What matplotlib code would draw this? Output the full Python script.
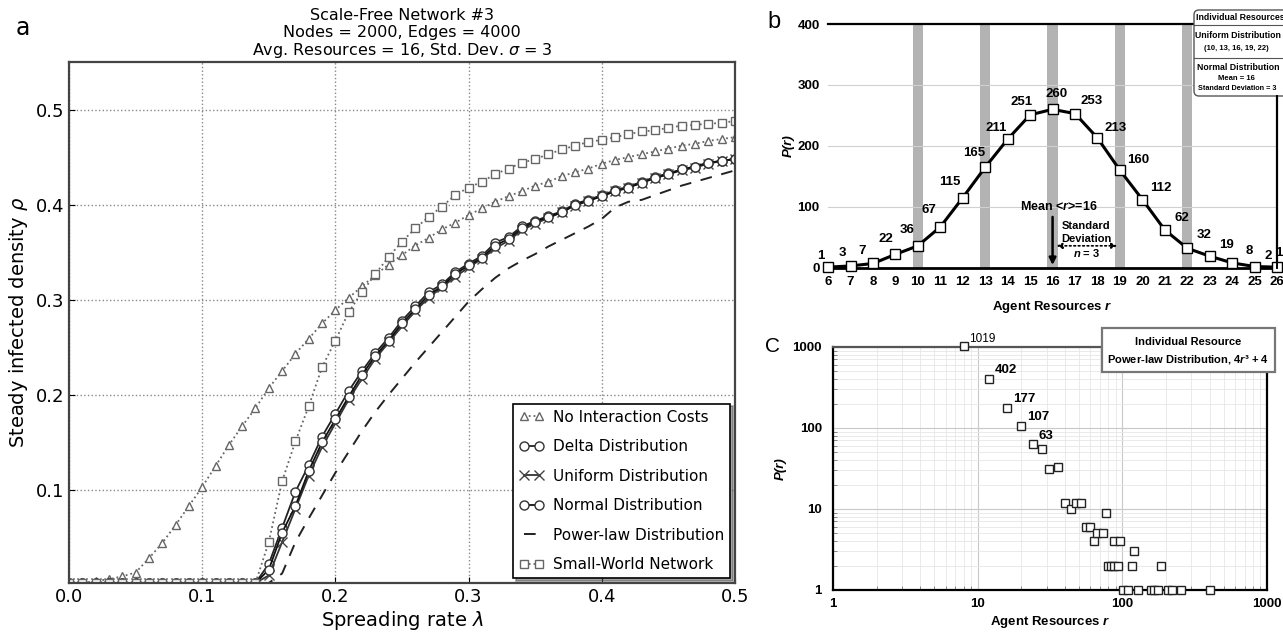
import numpy as np
import matplotlib as mpl
mpl.use("Agg")
import matplotlib.pyplot as plt
from matplotlib.patches import FancyBboxPatch, Rectangle

mpl.rcParams.update({
    "font.family": "DejaVu Sans",
    "mathtext.fontset": "custom",
    "mathtext.rm": "DejaVu Sans",
    "mathtext.it": "DejaVu Sans:italic",
    "mathtext.bf": "Liberation Sans:bold:italic",
})

# ---------------- panel a data ----------------
lam = np.round(np.arange(0, 0.501, 0.01), 2)

no_cost = [0.002, 0.002, 0.004, 0.006, 0.009, 0.013, 0.028, 0.044, 0.063, 0.083,
           0.103, 0.125, 0.147, 0.167, 0.186, 0.207, 0.225, 0.243, 0.259, 0.275,
           0.289, 0.302, 0.314, 0.326, 0.337, 0.347, 0.357, 0.365, 0.374, 0.381,
           0.389, 0.396, 0.403, 0.409, 0.414, 0.420, 0.424, 0.430, 0.434, 0.438,
           0.443, 0.447, 0.450, 0.453, 0.456, 0.459, 0.462, 0.464, 0.467, 0.469,
           0.471]
delta = [0.002] * 15 + [
    0.022, 0.060, 0.098, 0.126, 0.156, 0.180, 0.204, 0.225, 0.244, 0.260,
    0.278, 0.293, 0.308, 0.316, 0.329, 0.338, 0.346, 0.360, 0.366, 0.377,
    0.383, 0.388, 0.393, 0.401, 0.405, 0.410, 0.415, 0.419, 0.424, 0.429,
    0.433, 0.437, 0.440, 0.444, 0.446, 0.448]
uniform = [0.002] * 15 + [
    0.010, 0.045, 0.080, 0.115, 0.145, 0.170, 0.195, 0.217, 0.238, 0.255,
    0.272, 0.288, 0.302, 0.313, 0.324, 0.334, 0.343, 0.354, 0.362, 0.373,
    0.380, 0.386, 0.392, 0.399, 0.404, 0.409, 0.414, 0.418, 0.423, 0.428,
    0.432, 0.436, 0.439, 0.443, 0.446, 0.448]
normal = [0.002] * 15 + [
    0.016, 0.055, 0.083, 0.120, 0.150, 0.174, 0.198, 0.221, 0.241, 0.257,
    0.275, 0.290, 0.305, 0.314, 0.327, 0.336, 0.344, 0.357, 0.364, 0.375,
    0.382, 0.387, 0.392, 0.400, 0.404, 0.409, 0.414, 0.418, 0.423, 0.428,
    0.432, 0.437, 0.440, 0.444, 0.446, 0.448]
power = [0.002] * 16 + [
    0.012, 0.045, 0.070, 0.094, 0.118, 0.140, 0.162, 0.182, 0.200, 0.217,
    0.234, 0.250, 0.266, 0.282, 0.298, 0.311, 0.323, 0.333, 0.341, 0.348,
    0.356, 0.363, 0.370, 0.377, 0.385, 0.397, 0.403, 0.405, 0.410, 0.415,
    0.420, 0.424, 0.428, 0.432, 0.436]
small_world = [0.002] * 15 + [
    0.045, 0.109, 0.151, 0.188, 0.229, 0.257, 0.287, 0.308, 0.327, 0.345,
    0.361, 0.375, 0.387, 0.398, 0.410, 0.418, 0.424, 0.432, 0.438, 0.444,
    0.448, 0.453, 0.458, 0.462, 0.466, 0.468, 0.471, 0.474, 0.477, 0.478,
    0.481, 0.483, 0.484, 0.485, 0.486, 0.488]

# ---------------- panel b data ----------------
r_norm = list(range(6, 27))
p_norm = [1, 3, 7, 22, 36, 67, 115, 165, 211, 251, 260, 253, 213, 160, 112,
          62, 32, 19, 8, 2, 1]
uniform_levels = [10, 13, 16, 19, 22]

# ---------------- panel c data ----------------
r_pow = [8, 12, 16, 20, 24, 28, 31, 36, 40, 44, 48, 52, 56, 60, 64, 67, 73,
         77, 79, 83, 88, 93, 88, 96, 116, 120, 185,
         101, 109, 129, 157, 166, 175, 208, 219, 254, 405]
p_pow = [1019, 402, 177, 107, 63, 55, 31, 33, 12, 10, 12, 12, 6, 6, 4, 5, 5,
         9, 2, 2, 2, 2, 4, 4, 2, 3, 2,
         1, 1, 1, 1, 1, 1, 1, 1, 1, 1]
labelled = [1019, 402, 177, 107, 63]

fig = plt.figure(figsize=(12.83, 6.33), dpi=100)

# ======================= panel a =======================
ax = fig.add_axes([0.0538, 0.079, 0.519, 0.823])
grey = "#666666"
ax.plot(lam, no_cost, ls=":", color=grey, marker="^", mfc="white", mec=grey,
        ms=5.5, lw=1.3, label="No Interaction Costs")
ax.plot(lam, delta, ls="-", color="#222222", marker="o", mfc="white",
        mec="#333333", ms=6.5, lw=1.3, label="Delta Distribution")
ax.plot(lam, uniform, ls="-", color="#333333", marker="x", mec="#444444",
        ms=6.5, lw=1.3, label="Uniform Distribution")
ax.plot(lam, normal, ls="-", color="#111111", marker="o", mfc="white",
        mec="#333333", ms=6.5, lw=1.3, label="Normal Distribution")
ax.plot(lam, power, ls=(0, (6, 5)), color="#222222", lw=1.4,
        label="Power-law Distribution")
ax.plot(lam, small_world, ls=":", color=grey, marker="s", mfc="white",
        mec=grey, ms=5.5, lw=1.3, label="Small-World Network")

ax.set_xlim(0, 0.5)
ax.set_ylim(0.002, 0.55)
ax.set_xticks([0.0, 0.1, 0.2, 0.3, 0.4, 0.5])
ax.set_yticks([0.1, 0.2, 0.3, 0.4, 0.5])
ax.grid(True, ls=":", color="#888888", lw=1.0)
ax.tick_params(labelsize=13, direction="in", length=4)
for s in ax.spines.values():
    s.set_linewidth(1.6)
    s.set_color("#444444")
ax.set_xlabel(r"Spreading rate $\lambda$", fontsize=14, labelpad=2)
ax.set_ylabel(r"Steady infected density $\rho$", fontsize=14)
ax.set_title("Scale-Free Network #3\nNodes = 2000, Edges = 4000\n"
             r"Avg. Resources = 16, Std. Dev. $\sigma$ = 3",
             fontsize=11.5, linespacing=1.1, pad=5)
leg = ax.legend(loc="lower right", numpoints=2, fontsize=11, shadow=True,
                fancybox=False, borderaxespad=0.3, labelspacing=0.95,
                handlelength=1.6, handletextpad=0.6, framealpha=1)
leg.get_frame().set_edgecolor("black")
leg.get_frame().set_linewidth(1.2)
fig.text(0.012, 0.955, "a", fontsize=17, va="center")

# ======================= panel b =======================
bold = dict(family="Liberation Sans", fontweight="bold")
bx = fig.add_axes([0.6454, 0.577, 0.350, 0.385])
for u in uniform_levels:
    bx.axvspan(u - 0.23, u + 0.23, color="#b3b3b3", zorder=0, lw=0)
bx.plot(r_norm, p_norm, color="black", lw=2.2, marker="s", ms=6.5,
        mfc="white", mec="black", mew=1.0, zorder=3, clip_on=False)
bx.set_xlim(6, 26)
bx.set_ylim(0, 400)
bx.set_xticks(r_norm)
bx.set_yticks([0, 100, 200, 300, 400])
bx.yaxis.grid(True, color="#d0d0d0", lw=0.8)
bx.tick_params(length=0, labelsize=9.5, pad=6)
for lbl in bx.get_xticklabels() + bx.get_yticklabels():
    lbl.set_fontfamily("Liberation Sans")
    lbl.set_fontweight("bold")
for s in bx.spines.values():
    s.set_linewidth(1.6)
bx.spines["left"].set_visible(False)
bx.spines["bottom"].set_linewidth(2.0)
bx.set_xlabel(r"Agent Resources $\mathbf{r}$", fontsize=9.5, labelpad=8, **bold)
bx.set_ylabel("P(r)", fontsize=9.5, style="italic", labelpad=2, **bold)

offsets = {6: (-5, 4), 7: (-6, 5), 8: (-8, 5), 9: (-7, 7), 10: (-8, 7),
           11: (-8, 8), 12: (-9, 7), 13: (-8, 6), 14: (-8, 4), 15: (-6, 5),
           16: (3, 7), 17: (12, 5), 18: (13, 3), 19: (13, 3), 20: (13, 4),
           21: (12, 4), 22: (12, 5), 23: (12, 4), 24: (12, 4), 25: (10, 3),
           26: (1, 6)}
for r, p in zip(r_norm, p_norm):
    dx, dy = offsets[r]
    bx.annotate(str(p), (r, p), xytext=(dx, dy), textcoords="offset points",
                ha="center", va="bottom", fontsize=9.5, annotation_clip=False,
                **bold)

bx.annotate("", xy=(16, 0), xytext=(16, 88),
            arrowprops=dict(arrowstyle="-|>", color="black", lw=1.8,
                            mutation_scale=10))
bx.text(16.3, 100, r"Mean <$\mathbf{r}$>=16", ha="center", va="center",
        fontsize=9, **bold)
bx.annotate("", xy=(16.05, 36), xytext=(19, 36),
            arrowprops=dict(arrowstyle="<|-|>", color="black", lw=1.2,
                            ls=":", mutation_scale=8))
bx.text(17.5, 68, "Standard", ha="center", va="center", fontsize=8, **bold)
bx.text(17.5, 47, "Deviation", ha="center", va="center", fontsize=8, **bold)
bx.text(17.5, 24, r"$\mathbf{n}$ = 3", ha="center", va="center", fontsize=8,
        **bold)
fig.text(0.598, 0.965, "b", fontsize=17, va="center",
         family="Liberation Sans")

# ======================= panel c =======================
cx = fig.add_axes([0.6493, 0.068, 0.3383, 0.384])
cx.set_xscale("log")
cx.set_yscale("log")
cx.set_xlim(1, 1000)
cx.set_ylim(1, 1000)
cx.grid(True, which="major", color="#c8c8c8", lw=0.8)
cx.grid(True, which="minor", color="#e6e6e6", lw=0.6)
cx.plot(r_pow, p_pow, ls="none", marker="s", ms=5.5, mfc="white",
        mec="#222222", mew=1.0, clip_on=False, zorder=3)
for r, p in zip(r_pow, p_pow):
    if p not in labelled:
        continue
    if p == 1019:
        cx.annotate(str(p), (r, p), xytext=(4, 3), textcoords="offset points",
                    fontsize=8.5, family="Liberation Sans",
                    annotation_clip=False)
    else:
        cx.annotate(str(p), (r, p), xytext=(4, 4), textcoords="offset points",
                    fontsize=9.5, annotation_clip=False, **bold)
cx.xaxis.set_major_formatter(mpl.ticker.FuncFormatter(lambda v, _: f"{v:g}"))
cx.yaxis.set_major_formatter(mpl.ticker.FuncFormatter(lambda v, _: f"{v:g}"))
cx.tick_params(which="major", length=0, labelsize=9.5, pad=8)
cx.tick_params(axis="x", which="major", pad=6)
cx.tick_params(which="minor", length=3, direction="in", color="#777777")
for lbl in cx.get_xticklabels() + cx.get_yticklabels():
    lbl.set_fontfamily("Liberation Sans")
    lbl.set_fontweight("bold")
for s in cx.spines.values():
    s.set_linewidth(1.6)
cx.spines["top"].set_color("#555555")
cx.set_xlabel(r"Agent Resources $\mathbf{r}$", fontsize=9.5, labelpad=3,
              **bold)
cx.set_ylabel("P(r)", fontsize=9.5, style="italic", labelpad=4, **bold)
fig.text(0.596, 0.453, "C", fontsize=15, va="center",
         family="Liberation Sans")

# ============ overlay boxes (pixel coordinates) ============
ov = fig.add_axes([0, 0, 1, 1])
ov.set_xlim(0, 1283)
ov.set_ylim(633, 0)
ov.axis("off")
ov.add_patch(FancyBboxPatch((1194, 10), 100, 86,
                            boxstyle="round,pad=0,rounding_size=5",
                            fc="white", ec="#555555", lw=1.0))
ov.plot([1194, 1294], [25, 25], color="#555555", lw=0.8)
ov.plot([1194, 1294], [58, 58], color="#555555", lw=0.8)
ov.text(1196, 18, "Individual Resources", fontsize=6.3, va="center", **bold)
ov.text(1238, 36, "Uniform Distribution", fontsize=6.3, ha="center",
        va="center", **bold)
ov.text(1236, 48, "(10, 13, 16, 19, 22)", fontsize=5.5, ha="center",
        va="center", **bold)
ov.text(1238, 67, "Normal Distribution", fontsize=6.3, ha="center",
        va="center", **bold)
ov.text(1236, 79, "Mean = 16", fontsize=5.5, ha="center", va="center",
        **bold)
ov.text(1237, 89, "Standard Deviation = 3", fontsize=5.2, ha="center",
        va="center", **bold)
# vertical connector under the box
ov.plot([1277, 1277], [96, 268], color="black", lw=1.4)

ov.add_patch(Rectangle((1102, 328), 173, 44, fc="white", ec="#777777",
                       lw=1.6))
ov.text(1188, 342, "Individual Resource", fontsize=8, ha="center",
        va="center", **bold)
ov.text(1188, 360, r"Power-law Distribution, 4$\mathbf{r}$³ + 4", fontsize=8,
        ha="center", va="center", **bold)

fig.savefig("out.png", dpi=100)
